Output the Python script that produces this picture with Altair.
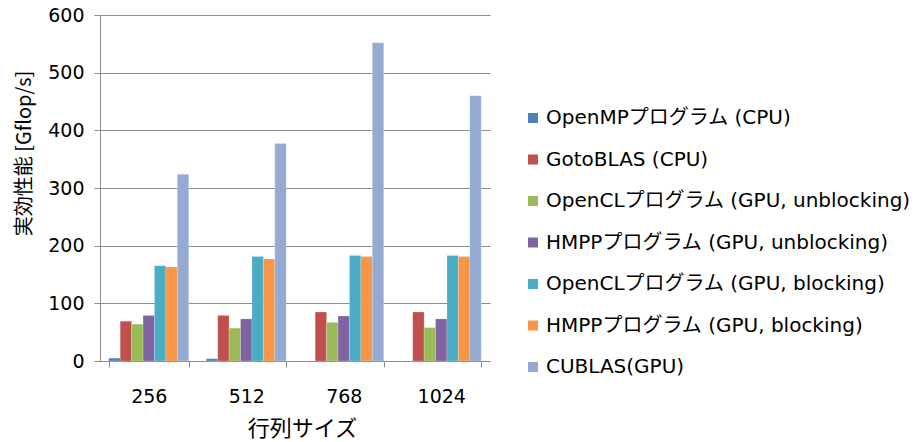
import altair as alt
import pandas as pd

sizes = ["256", "512", "768", "1024"]
series = [
    "OpenMPプログラム (CPU)",
    "GotoBLAS (CPU)",
    "OpenCLプログラム (GPU, unblocking)",
    "HMPPプログラム (GPU, unblocking)",
    "OpenCLプログラム (GPU, blocking)",
    "HMPPプログラム (GPU, blocking)",
    "CUBLAS(GPU)",
]
colors = ["#4F81BD", "#C0504D", "#9BBB59", "#8064A2", "#4BACC6", "#F79646", "#95AAD3"]

openmp = [5, 4, None, None]
gotoblas = [69, 79, 85, 85]
opencl_unblk = [64, 57, 67, 58]
hmpp_unblk = [79, 73, 78, 73]
opencl_blk = [165, 181, 183, 183]
hmpp_blk = [163, 177, 181, 181]
cublas = [324, 377, 552, 460]

values = [openmp, gotoblas, opencl_unblk, hmpp_unblk, opencl_blk, hmpp_blk, cublas]
rows = []
for s, vals in zip(series, values):
    for size, v in zip(sizes, vals):
        if v is not None:
            rows.append({"size": size, "series": s, "value": v})
df = pd.DataFrame(rows)

FONT = "DejaVu Sans, Noto Sans CJK JP, sans-serif"
CJK = "Noto Sans CJK JP"
GRID = "#8C8C8C"

chart = alt.Chart(df).mark_bar(stroke="white", strokeWidth=0.4, strokeOpacity=0.5).encode(
    x=alt.X("size:N", sort=sizes, title="行列サイズ",
            scale=alt.Scale(paddingInner=0.18, paddingOuter=0.09),
            axis=alt.Axis(labelAngle=0, tickBand="extent", tickSize=6, tickColor=GRID,
                          domainColor=GRID, labelFontSize=19, labelFont=FONT,
                          labelColor="#000000", labelPadding=20,
                          titleFontSize=22, titleFont=CJK, titleFontWeight="normal",
                          titleColor="#000000", titleX=202, titleY=67,
                          titleBaseline="middle")),
    xOffset=alt.XOffset("series:N", sort=series, scale=alt.Scale(paddingInner=0, paddingOuter=0)),
    y=alt.Y("value:Q", title="実効性能 [Gflop/s]",
            scale=alt.Scale(domain=[0, 600], nice=False),
            axis=alt.Axis(values=[0, 100, 200, 300, 400, 500, 600], tickSize=6,
                          tickColor=GRID, domainColor=GRID, gridColor=GRID,
                          labelFontSize=19, labelFont=FONT, labelColor="#000000",
                          labelPadding=10,
                          titleFontSize=20, titleFont=CJK, titleFontWeight="normal",
                          titleColor="#000000", titleX=-76, titleY=138,
                          titleBaseline="middle", titleAngle=-90)),
    color=alt.Color("series:N", sort=series,
                    scale=alt.Scale(domain=series, range=colors),
                    legend=alt.Legend(title=None, orient="none", legendX=423, legendY=93,
                                      symbolType="square", symbolSize=100,
                                      symbolStrokeWidth=0, labelFontSize=20,
                                      labelFont=FONT, labelColor="#000000",
                                      labelOffset=3, rowPadding=21.5, labelLimit=500)),
).properties(
    width=390, height=346,
    autosize=alt.AutoSizeParams(type="none"),
    padding={"left": 100, "top": 15, "right": 429, "bottom": 81},
).configure_view(stroke=None).configure_axis(grid=False).configure_axisY(grid=True)

chart.save("out.html", embed_options={"renderer": "svg", "actions": False})
